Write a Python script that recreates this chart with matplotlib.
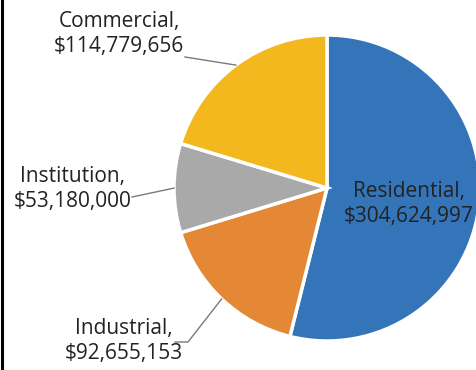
import numpy as np
import matplotlib
matplotlib.use("Agg")
import matplotlib.pyplot as plt

# construction value by sector
sectors = ["Residential", "Industrial", "Institution", "Commercial"]
amounts = [304624997, 92655153, 53180000, 114779656]
colors = ["#3474B8", "#E48835", "#A9A9A9", "#F2B81E"]

plt.rcParams["font.family"] = ["Open Sans", "DejaVu Sans"]

W, H = 477, 370
fig = plt.figure(figsize=(W / 100, H / 100), dpi=100)
ax = fig.add_axes([0, 0, 1, 1])
ax.set_xlim(0, W)
ax.set_ylim(0, H)
ax.set_aspect("equal")
ax.axis("off")

cx, cy, r = 327, 182, 153
wedges, _ = ax.pie(amounts, colors=colors, startangle=90, counterclock=False,
                   center=(cx, cy), radius=r, frame=True,
                   wedgeprops=dict(edgecolor="white", linewidth=2.5))
ax.set_xlim(0, W)
ax.set_ylim(0, H)
ax.axis("off")


def label(i):
    return f"{sectors[i]},\n${amounts[i]:,}"


def edge_point(i):
    w = wedges[i]
    a = np.deg2rad((w.theta1 + w.theta2) / 2)
    return cx + r * np.cos(a), cy + r * np.sin(a)


txt = dict(ha="center", va="center", fontsize=15, color="#222222", linespacing=1.25)
# label block centres
spots = {0: (409, 166), 1: (124, 29), 2: (73, 181), 3: (119, 336)}
for i, (x, y) in spots.items():
    ax.text(x, y, label(i), **txt)

# leader lines from label text to wedge edge
lc = dict(color="#7a7a7a", linewidth=1)
ex, ey = edge_point(3)
ax.plot([185, ex], [313, ey], **lc)
ex, ey = edge_point(2)
ax.plot([132, ex], [173, ey], **lc)
ex, ey = edge_point(1)
ax.plot([175, 188, ex], [28, 28, ey], **lc)

# left border
ax.plot([2.5, 2.5], [0, H], color="black", linewidth=2.2, clip_on=False)

fig.savefig("out.png", dpi=100)
